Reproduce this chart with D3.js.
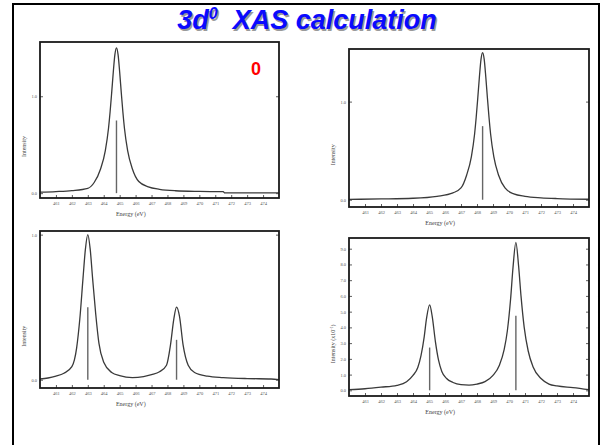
<!DOCTYPE html>
<html>
<head>
<meta charset="utf-8">
<script src="https://cdnjs.cloudflare.com/ajax/libs/d3/7.8.5/d3.min.js"></script>
<style>
  body{margin:0;background:#fff;}
  svg{display:block;}
  .tick text{font-family:"Liberation Serif",serif;font-size:4.5px;fill:#555;}
  .tick line{stroke:#333;stroke-width:0.8;}
  .axis-label{font-family:"Liberation Serif",serif;font-size:6px;fill:#444;}
</style>
</head>
<body>
<div id="slide"></div>
<script>
// x ticks (eV), same for all four plots
const energyTicks = [461,462,463,464,465,466,467,468,469,470,471,472,473,474];

// top left: one line
const curve1 = [[460,0.010],[461,0.016],[462,0.026],[463,0.05],[463.4,0.11],[463.8,0.25],
  [464.1,0.44],[464.3,0.67],[464.4,0.84],[464.5,1.04],[464.6,1.25],[464.7,1.43],[464.8,1.5],
  [464.9,1.43],[465.0,1.25],[465.1,1.04],[465.2,0.84],[465.3,0.67],[465.5,0.44],[465.8,0.25],
  [466.2,0.12],[466.8,0.065],[467.5,0.04],[468.5,0.025],[470,0.018],[471.5,0.015],
  [471.6,0.002],[475,0.002]];
const sticks1 = [[464.8,0.75]];
const yTicks1 = [0,1];

// top right: one line, shifted
const curve2 = [[460,0.004],[462,0.008],[464,0.015],[465.5,0.035],[466.5,0.07],[467.0,0.12],
  [467.35,0.25],[467.65,0.44],[467.85,0.67],[467.95,0.84],[468.05,1.04],[468.15,1.25],
  [468.25,1.43],[468.35,1.5],[468.45,1.43],[468.55,1.25],[468.65,1.04],[468.75,0.84],
  [468.85,0.67],[469.05,0.44],[469.35,0.25],[469.75,0.12],[470.3,0.06],[471,0.035],
  [472,0.02],[473,0.012],[475,0.005]];
const sticks2 = [[468.35,0.75]];
const yTicks2 = [0,1];

// bottom left: two lines
const curve3 = [[460,0.005],[460.5,0.012],[461,0.025],[461.5,0.045],[462,0.09],[462.3,0.22],
  [462.5,0.42],[462.7,0.70],[462.85,0.90],[463,1.0],[463.15,0.90],[463.3,0.70],[463.5,0.45],
  [463.7,0.25],[464,0.12],[464.5,0.05],[465,0.028],[465.8,0.015],[466.5,0.022],[467,0.035],
  [467.5,0.055],[467.94,0.10],[468.19,0.24],[468.4,0.42],[468.57,0.5],[468.75,0.44],
  [468.98,0.24],[469.3,0.10],[469.7,0.05],[470.5,0.025],[471.5,0.015],[473,0.008],
  [474.5,0.005],[475,0.0]];
const sticks3 = [[463.0,0.50],[468.57,0.275]];
const yTicks3 = [0,1];

// bottom right: two lines (x10^-1)
const curve4 = [[460,0.04],[461,0.10],[462,0.20],[463,0.32],[463.6,0.55],[464.0,0.95],
  [464.3,1.45],[464.5,2.2],[464.7,3.4],[464.85,4.6],[465.04,5.43],[465.2,4.7],[465.4,3.1],
  [465.6,1.9],[465.8,1.2],[466.1,0.75],[466.5,0.5],[467.0,0.36],[467.5,0.33],[468.0,0.40],
  [468.5,0.55],[469.0,0.95],[469.4,1.6],[469.7,2.6],[469.9,3.8],[470.1,5.8],[470.25,7.8],
  [470.43,9.40],[470.6,7.9],[470.75,6.0],[470.95,4.0],[471.2,2.5],[471.5,1.5],[472.0,0.75],
  [472.5,0.40],[473.0,0.28],[474.0,0.17],[475.0,0.04]];
const sticks4 = [[465.04,2.72],[470.43,4.74]];
const yTicks4 = [0,1,2,3,4,5,6,7,8,9];

const W = 602, H = 445;

const svg = d3.select('#slide').append('svg')
              .attr('width', W).attr('height', H);

// slide border
svg.append('path')
   .attr('d', `M13,${H+5}V4H599V${H+5}`)
   .attr('fill','none').attr('stroke','#000').attr('stroke-width',2);

// title with shadow
function title(dx, dy, color){
  const t = svg.append('text')
               .attr('x', 307 + dx).attr('y', 29 + dy)
               .attr('text-anchor','middle')
               .style('font-family','"Liberation Sans",Arial,sans-serif')
               .style('font-weight','bold').style('font-style','italic')
               .style('font-size','27px').style('fill', color);
  t.append('tspan').text('3d');
  t.append('tspan').text('0').attr('dy',-10).style('font-size','16px');
  t.append('tspan').text('\u00a0 XAS calculation').attr('dy',10);
}
title(1.5, 1.5, '#9a9a9a');
title(0, 0, '#0a0aff');

// one plot
function drawPanel(p){
  const x = d3.scaleLinear().domain([460,475]).range([p.left, p.right]);
  const y = d3.scaleLinear().domain(p.yDomain).range([p.bottom, p.top]);
  const g = svg.append('g');

  const xAxis = d3.axisBottom(x).tickValues(energyTicks)
                  .tickFormat(d3.format('d')).tickSize(-3).tickPadding(4);
  const xg = g.append('g').attr('transform',`translate(0,${p.bottom})`).call(xAxis);
  xg.select('.domain').remove();

  const yAxis = d3.axisLeft(y).tickValues(p.yTicks)
                  .tickFormat(d3.format('.1f')).tickSize(-3).tickPadding(3);
  const yg = g.append('g').attr('transform',`translate(${p.left},0)`).call(yAxis);
  yg.select('.domain').remove();

  const yRight = d3.axisRight(y).tickValues(p.yTicks).tickFormat('').tickSize(-3);
  const yr = g.append('g').attr('transform',`translate(${p.right},0)`).call(yRight);
  yr.select('.domain').remove();

  // sticks
  g.selectAll('.stick').data(p.sticks).enter()
   .append('line').attr('class','stick')
   .attr('x1', d=>x(d[0])).attr('x2', d=>x(d[0]))
   .attr('y1', y(0)).attr('y2', d=>y(d[1]))
   .attr('stroke','#666').attr('stroke-width',1.4);

  // broadened spectrum
  const line = d3.line().x(d=>x(d[0])).y(d=>y(d[1])).curve(d3.curveMonotoneX);
  g.append('path').datum(p.curve)
   .attr('d', line)
   .attr('fill','none').attr('stroke','#3a3a3a').attr('stroke-width',1.3);

  // frame
  g.append('rect')
   .attr('x', p.left).attr('y', p.top)
   .attr('width', p.right - p.left).attr('height', p.bottom - p.top)
   .attr('fill','none').attr('stroke','#1a1a1a').attr('stroke-width',1.8);

  g.append('text').attr('class','axis-label')
   .attr('x', p.left + 0.38*(p.right - p.left)).attr('y', p.bottom + 18)
   .attr('text-anchor','middle').text('Energy (eV)');

  const ly = p.top + 0.67*(p.bottom - p.top);
  const yl = g.append('text').attr('class','axis-label')
   .attr('transform',`translate(${p.left - 14},${ly}) rotate(-90)`)
   .attr('text-anchor','middle');
  yl.append('tspan').text(p.yLabel);
  if (p.yExp){
    yl.append('tspan').text(' (x10');
    yl.append('tspan').text('-1').attr('dy',-2).style('font-size','4px');
    yl.append('tspan').text(')').attr('dy',2);
  }
}

drawPanel({left:40, right:279, top:42, bottom:198, yDomain:[-0.05,1.56],
           curve:curve1, sticks:sticks1, yTicks:yTicks1, yLabel:'Intensity'});
drawPanel({left:349, right:589, top:49, bottom:207, yDomain:[-0.074,1.536],
           curve:curve2, sticks:sticks2, yTicks:yTicks2, yLabel:'Intensity'});
drawPanel({left:40, right:279, top:231, bottom:388, yDomain:[-0.057,1.025],
           curve:curve3, sticks:sticks3, yTicks:yTicks3, yLabel:'Intensity'});
drawPanel({left:349, right:589, top:238, bottom:396, yDomain:[-0.36,9.68],
           curve:curve4, sticks:sticks4, yTicks:yTicks4, yLabel:'Intensity', yExp:true});

// red label in the first plot
svg.append('text').attr('x',256).attr('y',75)
   .attr('text-anchor','middle')
   .style('font-family','"Liberation Sans",Arial,sans-serif')
   .style('font-weight','bold').style('font-size','18px')
   .style('fill','#ff0000').text('0');
</script>
</body>
</html>
